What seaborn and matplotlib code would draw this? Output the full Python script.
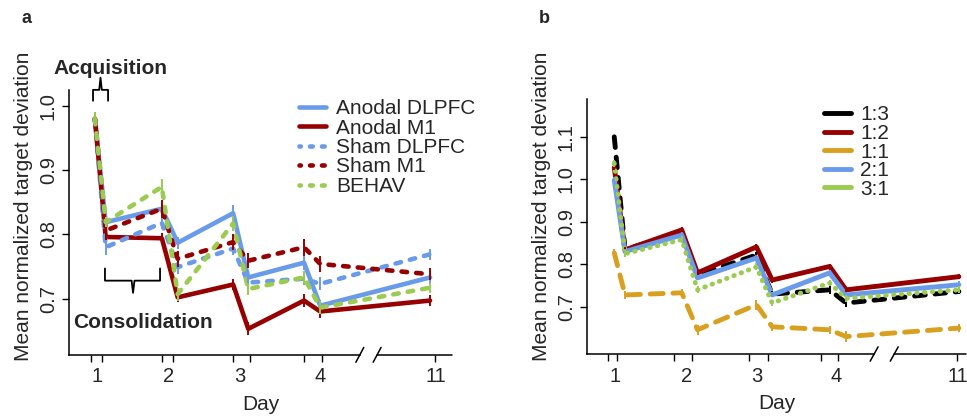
import matplotlib
matplotlib.use('Agg')
import matplotlib.pyplot as plt
from matplotlib.lines import Line2D
import seaborn as sns
import pandas as pd

# panel a data (session positions on a compressed day axis, day 11 after the break)
sess_x_a = [0.97, 1.12, 1.90, 2.12, 2.89, 3.10, 3.875, 4.10, 5.625]
groups_a = ['Anodal DLPFC', 'Anodal M1', 'Sham DLPFC', 'Sham M1', 'BEHAV']
anodal_dlpfc = [0.980, 0.819, 0.840, 0.787, 0.833, 0.733, 0.756, 0.689, 0.733]
anodal_m1 = [0.980, 0.796, 0.794, 0.702, 0.722, 0.653, 0.697, 0.680, 0.697]
sham_dlpfc = [0.980, 0.780, 0.818, 0.749, 0.778, 0.725, 0.731, 0.723, 0.769]
sham_m1 = [0.980, 0.806, 0.840, 0.762, 0.788, 0.759, 0.780, 0.754, 0.738]
behav = [0.980, 0.819, 0.874, 0.707, 0.817, 0.715, 0.733, 0.686, 0.717]
err_a = {
    'Anodal DLPFC': [0.010, 0.008, 0.008, 0.009, 0.012, 0.010, 0.011, 0.009, 0.008],
    'Anodal M1': [0.010, 0.008, 0.008, 0.008, 0.008, 0.010, 0.010, 0.010, 0.008],
    'Sham DLPFC': [0.010, 0.012, 0.010, 0.011, 0.010, 0.012, 0.010, 0.010, 0.009],
    'Sham M1': [0.010, 0.010, 0.014, 0.012, 0.012, 0.012, 0.013, 0.012, 0.009],
    'BEHAV': [0.010, 0.008, 0.012, 0.010, 0.012, 0.010, 0.010, 0.010, 0.008],
}

# panel b data
sess_x_b = [0.99, 1.14, 1.93, 2.15, 2.97, 3.19, 3.99, 4.22, 5.79]
groups_b = ['1:3', '1:2', '1:1', '2:1', '3:1']
r13 = [1.100, 0.835, 0.875, 0.775, 0.822, 0.730, 0.740, 0.709, 0.736]
r12 = [1.028, 0.834, 0.881, 0.780, 0.841, 0.763, 0.795, 0.740, 0.771]
r11 = [0.827, 0.728, 0.733, 0.646, 0.705, 0.653, 0.646, 0.630, 0.650]
r21 = [0.998, 0.830, 0.869, 0.768, 0.815, 0.728, 0.780, 0.728, 0.752]
r31 = [1.038, 0.825, 0.858, 0.740, 0.794, 0.709, 0.756, 0.720, 0.740]
err_b = {
    '1:3': [0.004, 0.006, 0.006, 0.006, 0.006, 0.008, 0.010, 0.010, 0.006],
    '1:2': [0.006, 0.006, 0.006, 0.006, 0.006, 0.006, 0.006, 0.006, 0.006],
    '1:1': [0.010, 0.010, 0.010, 0.012, 0.012, 0.010, 0.010, 0.012, 0.010],
    '2:1': [0.008, 0.006, 0.006, 0.006, 0.006, 0.006, 0.006, 0.006, 0.008],
    '3:1': [0.008, 0.008, 0.008, 0.008, 0.008, 0.008, 0.008, 0.008, 0.008],
}

day_labels = ['1', '2', '3', '4', '11']
label_x_a = [1.0, 1.99, 2.99, 4.1, 5.70]
tick_x_a = [0.917, 1.07, 1.90, 2.06, 2.89, 3.125, 3.875, 4.125, 5.69]
label_x_b = [1.0, 2.0, 2.97, 4.08, 5.77]
tick_x_b = [0.90, 1.03, 1.82, 2.07, 2.86, 3.125, 3.875, 4.11, 5.76]

blue = '#6A9BEA'
red = '#960000'
green = '#9BCB50'
orange = '#D9A020'

pal_a = dict(zip(groups_a, [blue, red, blue, red, green]))
dash_a = dict(zip(groups_a, ['', '', (1.2, 2.0), (1.2, 2.0), (1.2, 2.0)]))
pal_b = dict(zip(groups_b, ['black', red, orange, blue, green]))
dash_b = dict(zip(groups_b, [(2.2, 2.0), '', (2.7, 2.0), '', (0.1, 1.5)]))

df_a = pd.DataFrame({
    'x': sess_x_a * 5,
    'y': anodal_dlpfc + anodal_m1 + sham_dlpfc + sham_m1 + behav,
    'group': [g for g in groups_a for _ in sess_x_a],
})
df_b = pd.DataFrame({
    'x': sess_x_b * 5,
    'y': r13 + r12 + r11 + r21 + r31,
    'group': [g for g in groups_b for _ in sess_x_b],
})

sns.set_style('white')
plt.rcParams['font.family'] = ['Liberation Sans', 'DejaVu Sans']
plt.rcParams['lines.dash_capstyle'] = 'round'
plt.rcParams['lines.solid_capstyle'] = 'round'

fig = plt.figure(figsize=(9.67, 4.16), dpi=100)
ax_a = fig.add_axes([0.0714, 0.147, 0.396, 0.637])
ax_b = fig.add_axes([0.607, 0.149, 0.392, 0.613])


def style_axis(ax, xlim, ylim, yticks, tick_x, label_x, brk, ylab_y):
    ax.set_xlim(*xlim)
    ax.set_ylim(*ylim)
    for s in ['top', 'right']:
        ax.spines[s].set_visible(False)
    for s in ['left', 'bottom']:
        ax.spines[s].set_linewidth(1.1)
        ax.spines[s].set_color('black')
    ax.spines['bottom'].set_bounds(xlim[0], brk[0])
    ax.plot([brk[1], xlim[1]], [0, 0], color='black', lw=1.1,
            transform=ax.get_xaxis_transform(), clip_on=False)
    for bx in brk:
        ax.plot([bx - 0.055, bx + 0.055], [-0.028, 0.028], color='black', lw=1.1,
                transform=ax.get_xaxis_transform(), clip_on=False)
    ax.set_yticks(yticks)
    ax.set_yticklabels([f'{v:.1f}' for v in yticks], rotation=90, va='center')
    ax.set_xticks(tick_x)
    ax.set_xticklabels([''] * len(tick_x))
    ax.set_xticks(label_x, minor=True)
    ax.set_xticklabels(day_labels, minor=True)
    ax.tick_params(axis='both', which='major', direction='out', length=5, width=1,
                   color='black', labelsize=14.5, left=True, bottom=True, pad=3)
    ax.tick_params(axis='x', which='minor', length=0, pad=9, labelsize=14.5)
    ax.set_xlabel('Day', fontsize=15, labelpad=6)
    ax.set_ylabel('Mean normalized target deviation', fontsize=15, labelpad=4, y=ylab_y)
    ax.grid(False)


# panel a
sns.lineplot(data=df_a, x='x', y='y', hue='group', style='group', hue_order=groups_a,
             style_order=groups_a, palette=pal_a, dashes=dash_a, lw=3.3,
             sort=False, legend=False, ax=ax_a)
for g in groups_a:
    sub = df_a[df_a['group'] == g]
    ax_a.errorbar(sub['x'], sub['y'], yerr=err_a[g], fmt='none', ecolor=pal_a[g],
                  elinewidth=1.4, capsize=0)
style_axis(ax_a, (0.611, 5.93), (0.6125, 1.025), [0.7, 0.8, 0.9, 1.0],
           tick_x_a, label_x_a, (4.65, 4.89), 0.56)
handles_a = [Line2D([], [], color=pal_a[g], lw=3.3,
                    linestyle='-' if dash_a[g] == '' else (0.3, (0.6, 2.0)))
             for g in groups_a]
ax_a.legend(handles_a, groups_a, loc='upper left', bbox_to_anchor=(0.6, 0.965),
            frameon=False, fontsize=15, handlelength=1.3, handletextpad=0.5,
            labelspacing=0.02, borderaxespad=0, borderpad=0)

# brackets
ax_a.plot([0.944, 0.944, 1.03, 1.048, 1.066, 1.153, 1.153],
          [1.008, 1.025, 1.025, 1.044, 1.025, 1.025, 1.008],
          color='black', lw=1.3, clip_on=False)
ax_a.text(1.18, 1.059, 'Acquisition', fontsize=15, fontweight='bold',
          ha='center', va='center')
ax_a.plot([1.11, 1.11, 1.48, 1.50, 1.52, 1.875, 1.875],
          [0.747, 0.728, 0.728, 0.709, 0.728, 0.728, 0.747],
          color='black', lw=1.3)
ax_a.text(1.64, 0.6625, 'Consolidation', fontsize=15, fontweight='bold',
          ha='center', va='center')

# panel b
sns.lineplot(data=df_b, x='x', y='y', hue='group', style='group', hue_order=groups_b,
             style_order=groups_b, palette=pal_b, dashes=dash_b, lw=3.5,
             sort=False, legend=False, ax=ax_b)
for g in groups_b:
    sub = df_b[df_b['group'] == g]
    ax_b.errorbar(sub['x'], sub['y'], yerr=err_b[g], fmt='none', ecolor=pal_b[g],
                  elinewidth=1.4, capsize=0)
style_axis(ax_b, (0.61, 5.89), (0.589, 1.189), [0.7, 0.8, 0.9, 1.0, 1.1],
           tick_x_b, label_x_b, (4.61, 4.89), 0.58)
handles_b = [Line2D([], [], color=pal_b[g], lw=3.5) for g in groups_b]
ax_b.legend(handles_b, groups_b, loc='upper left', bbox_to_anchor=(0.625, 0.975),
            frameon=False, fontsize=15, handlelength=1.3, handletextpad=0.45,
            labelspacing=-0.02, borderaxespad=0, borderpad=0)

fig.text(0.022, 0.955, 'a', fontsize=13, fontweight='bold', ha='left', va='center')
fig.text(0.557, 0.955, 'b', fontsize=13, fontweight='bold', ha='left', va='center')

fig.savefig('out.png', dpi=100)
